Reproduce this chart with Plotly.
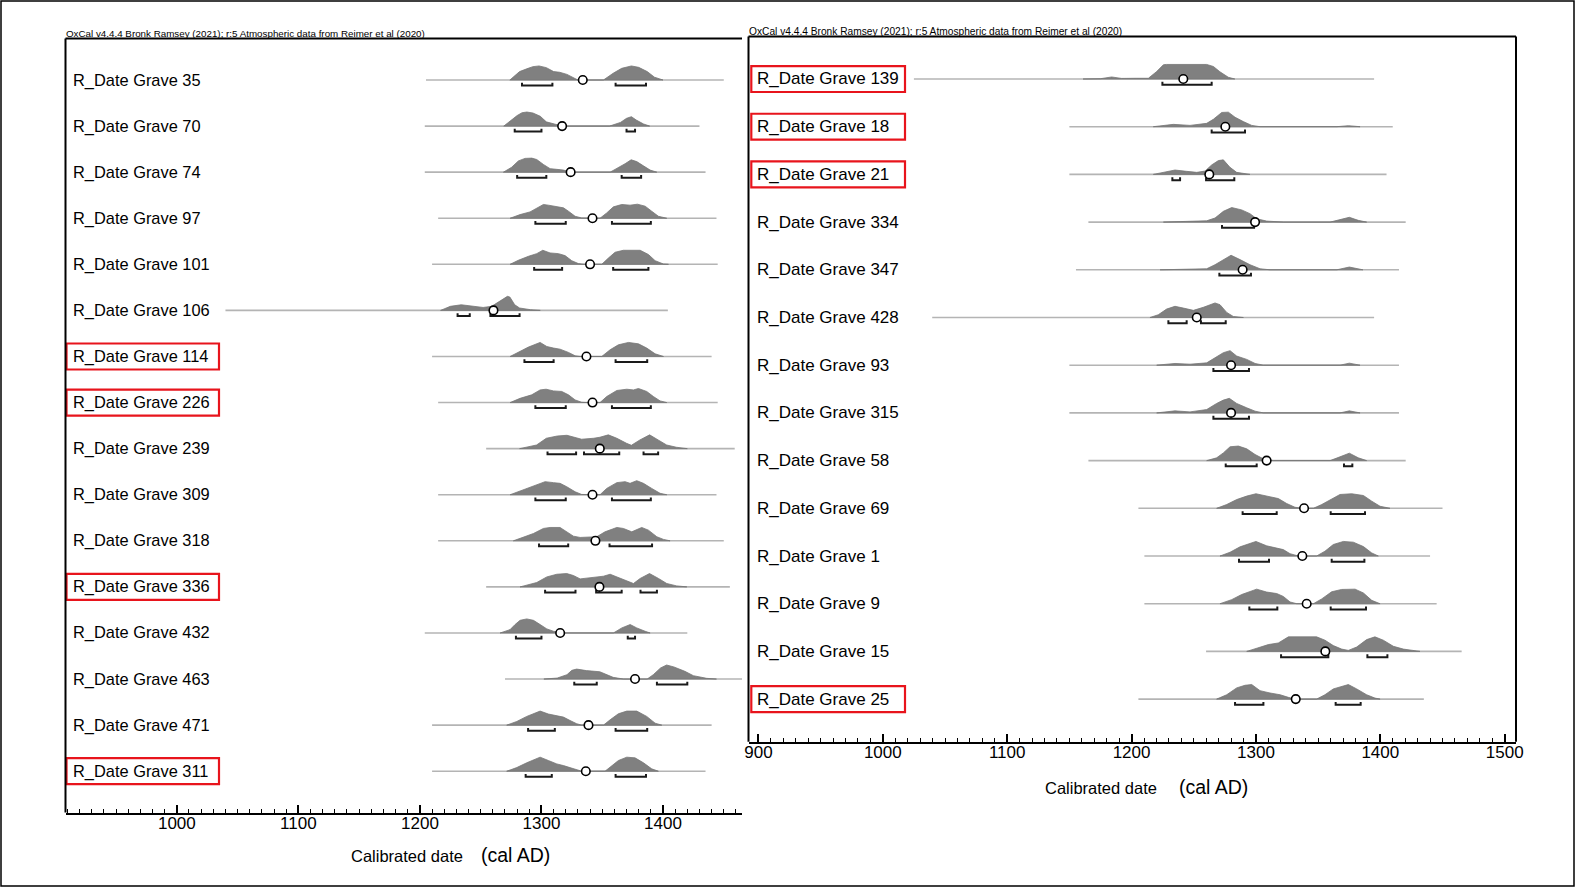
import plotly.graph_objects as go

W, H = 1575, 887
FONT = "Liberation Sans, Arial, Helvetica, sans-serif"
HEADER = "OxCal v4.4.4 Bronk Ramsey (2021); r:5 Atmospheric data from Reimer et al (2020)"

# ---------------- left panel data ----------------
L_LABELS = ["R_Date Grave 35", "R_Date Grave 70", "R_Date Grave 74", "R_Date Grave 97",
            "R_Date Grave 101", "R_Date Grave 106", "R_Date Grave 114", "R_Date Grave 226",
            "R_Date Grave 239", "R_Date Grave 309", "R_Date Grave 318", "R_Date Grave 336",
            "R_Date Grave 432", "R_Date Grave 463", "R_Date Grave 471", "R_Date Grave 311"]
L_BOXED = ["R_Date Grave 114", "R_Date Grave 226", "R_Date Grave 336", "R_Date Grave 311"]
L_SPAN_START = [1205, 1204, 1204, 1215, 1210, 1040, 1210, 1215, 1254.5, 1215, 1215, 1254.5, 1204, 1270, 1210, 1210]
L_SPAN_END = [1450, 1430, 1435, 1444, 1445, 1404, 1440, 1445, 1459, 1444, 1450, 1455, 1420, 1466, 1440, 1435]
L_MEAN = [1334, 1317, 1324, 1342, 1340, 1260.5, 1337, 1342, 1348, 1342, 1344.4, 1347.7, 1315.4, 1377, 1338.7, 1336.5]
L_RANGES = [
    [(1284, 1309), (1361, 1386)],
    [(1278, 1300), (1370, 1377)],
    [(1280, 1304), (1366, 1382)],
    [(1295, 1320), (1358, 1390)],
    [(1294, 1317), (1359, 1388)],
    [(1231, 1241), (1258, 1282)],
    [(1286, 1310), (1361, 1387)],
    [(1295, 1320), (1358, 1390)],
    [(1305, 1328.5), (1335, 1364), (1384, 1396)],
    [(1295, 1320), (1358, 1390)],
    [(1298, 1322), (1356, 1391)],
    [(1303, 1328), (1345, 1366), (1381.5, 1395)],
    [(1279, 1300), (1371, 1377)],
    [(1327, 1345.5), (1395, 1420)],
    [(1289, 1311), (1361, 1387)],
    [(1287, 1308.5), (1361, 1386)],
]
L_DENS_YEARS = [
    [1274, 1282, 1289, 1293, 1298, 1304, 1310, 1315, 1321, 1326, 1330, 1351, 1359, 1366, 1374, 1380, 1387, 1393, 1400],
    [1269, 1274, 1280, 1284, 1288, 1293, 1299, 1304, 1310, 1315, 1321, 1356, 1365, 1370, 1374, 1378, 1384, 1389],
    [1268.7, 1275.5, 1281, 1286.5, 1292, 1296.1, 1301.6, 1307.1, 1312.6, 1318.1, 1322.2, 1324.9, 1356.5, 1363.3, 1368.8, 1373.8, 1378.4, 1383.9, 1389.4, 1394.9],
    [1274.2, 1282.4, 1290.6, 1296.1, 1301.6, 1305.7, 1311.2, 1318.1, 1322.2, 1327.7, 1333.1, 1337.3, 1348.2, 1353.7, 1359.2, 1366.1, 1372.9, 1379, 1385.3, 1390.7, 1396.2, 1403.1],
    [1274.2, 1281, 1289.3, 1296.1, 1301.1, 1307.1, 1314, 1319.4, 1324.9, 1330.4, 1334.5, 1349.6, 1355.1, 1360.6, 1367.4, 1375.7, 1381.2, 1388, 1393.5, 1400.4, 1404.5],
    [1217, 1225, 1234, 1243, 1252, 1259, 1265, 1272, 1274, 1278, 1282, 1291, 1299],
    [1274.2, 1282.4, 1289.3, 1298.9, 1304.4, 1309.9, 1315.3, 1322.2, 1327.7, 1331.8, 1349.6, 1356.5, 1363.3, 1371.6, 1379.8, 1386.6, 1393.5, 1400.4],
    [1274.2, 1282.4, 1292, 1298.9, 1303.8, 1309.9, 1316.7, 1322.2, 1327.7, 1333.1, 1337.3, 1348.2, 1353.7, 1362, 1370.2, 1375.7, 1379.8, 1386.6, 1392.1, 1397.6, 1403.1],
    [1282, 1296, 1304, 1313, 1321, 1326, 1333, 1343, 1348, 1355, 1362, 1370, 1374, 1381, 1389, 1396, 1403, 1411, 1420],
    [1274.2, 1282.4, 1289.3, 1296.1, 1303, 1309.9, 1315.3, 1320.8, 1327.7, 1333.1, 1337.3, 1348.2, 1353.7, 1362, 1368.8, 1372.9, 1378.4, 1383.9, 1390.7, 1397.6, 1403.1],
    [1276.9, 1285.2, 1293.4, 1301.6, 1307.1, 1315.3, 1320.8, 1326.3, 1331.8, 1340, 1345.5, 1352.3, 1362, 1367.4, 1374.3, 1382.5, 1388, 1394.9, 1400.4, 1405.8],
    [1282.4, 1296.1, 1304.4, 1312.6, 1320.8, 1326.3, 1331.8, 1342.8, 1351, 1356.5, 1364.7, 1373, 1375.7, 1381.2, 1388.9, 1396.3, 1403.1, 1411.3, 1419.6],
    [1266, 1274.2, 1278.3, 1282.4, 1287.9, 1293.4, 1298.9, 1304.4, 1309.9, 1318.1, 1359.2, 1366.1, 1373, 1378.4, 1385.3, 1389.4],
    [1302, 1313, 1321, 1325, 1329, 1337, 1348, 1354, 1359, 1367.5, 1387, 1392, 1398, 1403, 1409, 1418, 1425, 1436, 1444],
    [1271.4, 1279.7, 1287.9, 1298.9, 1305.7, 1312.6, 1318.1, 1323.5, 1329, 1333.1, 1351, 1356.5, 1363.3, 1370.2, 1378.4, 1386.6, 1393.5, 1399],
    [1271.4, 1279.7, 1287.9, 1298.9, 1305.7, 1312.6, 1318.1, 1323.5, 1329, 1333.1, 1352.3, 1357.8, 1363.3, 1370.2, 1377, 1383.9, 1390.7, 1396.2],
]
L_DENS_VALS = [
    [0, .6, .83, .95, 1, .88, .6, .55, .4, .17, 0, 0, .48, .83, 1, .9, .6, .2, 0],
    [0, .35, .75, .95, 1, .93, .7, .3, .14, .05, 0, 0, .26, .55, .67, .43, .15, 0],
    [0, .35, .8, .98, 1, .9, .55, .25, .2, .15, .05, 0, 0, .3, .6, .88, .75, .45, .15, 0],
    [0, .26, .45, .74, .98, .93, .86, .74, .5, .14, .02, 0, 0, .38, .81, .98, .93, 1, .86, .5, .14, 0],
    [0, .29, .57, .76, 1, .81, .76, .62, .26, .05, 0, 0, .45, .86, 1, .98, 1, .7, .26, .02, 0],
    [0, .29, .4, .29, .21, .29, .64, 1, .95, .4, .17, .05, 0],
    [0, .36, .67, 1, .71, .6, .52, .29, .05, 0, 0, .48, .83, 1, .9, .6, .19, 0],
    [0, .3, .55, .9, .95, .83, .79, .55, .19, .02, 0, 0, .43, .86, .95, .9, 1, .79, .43, .12, 0],
    [0, .26, .74, .9, .95, .81, .67, .74, .81, .98, .74, .38, .24, .62, .98, .62, .26, .1, 0],
    [0, .26, .45, .69, .93, .86, .81, .57, .21, .02, 0, 0, .45, .86, .93, .81, 1, .81, .45, .1, 0],
    [0, .24, .52, .88, .95, .95, .64, .33, .24, .24, .29, .64, .95, .88, .64, .95, .76, .29, .1, 0],
    [0, .31, .71, .9, .95, .81, .57, .67, .76, .9, .6, .29, .24, .6, .95, .6, .24, .07, 0],
    [0, .24, .6, .9, 1, .9, .6, .29, .12, 0, 0, .36, .6, .36, .12, 0],
    [0, .07, .31, .62, .71, .6, .52, .31, .12, 0, 0, .31, .79, 1, .86, .55, .24, .05, 0],
    [0, .26, .62, 1, .79, .69, .57, .33, .1, 0, 0, .38, .81, 1, 1, .62, .14, 0],
    [0, .26, .6, 1, .76, .52, .4, .24, .07, 0, 0, .36, .76, 1, .95, .6, .17, 0],
]

# ---------------- right panel data ----------------
R_LABELS = ["R_Date Grave 139", "R_Date Grave 18", "R_Date Grave 21", "R_Date Grave 334",
            "R_Date Grave 347", "R_Date Grave 428", "R_Date Grave 93", "R_Date Grave 315",
            "R_Date Grave 58", "R_Date Grave 69", "R_Date Grave 1", "R_Date Grave 9",
            "R_Date Grave 15", "R_Date Grave 25"]
R_BOXED = ["R_Date Grave 139", "R_Date Grave 18", "R_Date Grave 21", "R_Date Grave 25"]
R_SPAN_START = [1025, 1150, 1150, 1165.3, 1155.3, 1039.7, 1150, 1150, 1165.3, 1205.5, 1210.3, 1210.3, 1259.9, 1205.5]
R_SPAN_END = [1395, 1410, 1405, 1420.4, 1415, 1395, 1415, 1415, 1420.4, 1450, 1440, 1445.3, 1465.4, 1435]
R_MEAN = [1241.6, 1275.4, 1262.5, 1299.3, 1289.3, 1252.4, 1280, 1280, 1308.6, 1338.7, 1337.3, 1340.8, 1355.8, 1332]
R_RANGES = [
    [(1224.8, 1264.4)],
    [(1264.4, 1291.2)],
    [(1232.8, 1239), (1259.9, 1282.6)],
    [(1272.7, 1298.5)],
    [(1270.6, 1296)],
    [(1229.6, 1244.3), (1255.8, 1275.7)],
    [(1265.8, 1294.4)],
    [(1265.8, 1294.4)],
    [(1275.7, 1300.6), (1370.8, 1377.5)],
    [(1289.3, 1316.7), (1360.1, 1387.7)],
    [(1286.4, 1310.5), (1360.9, 1387.2)],
    [(1294.7, 1317.2), (1360.1, 1388.5)],
    [(1320.2, 1358.2), (1389.6, 1405.7)],
    [(1283.2, 1306), (1364.1, 1384.2)],
]
R_DENS_YEARS = [
    [1161, 1175, 1184, 1192, 1204, 1213.5, 1220, 1225.6, 1228, 1260.4, 1265.8, 1271, 1277.8, 1283],
    [1217.5, 1233.6, 1247, 1260.4, 1265.8, 1272.5, 1277.8, 1283.2, 1289.9, 1296.6, 1303.3, 1365, 1374.3, 1383.7],
    [1217.5, 1225.6, 1234.9, 1244.3, 1252.4, 1259.1, 1264.4, 1269.8, 1273.8, 1279.1, 1284.5, 1295.2],
    [1225.6, 1260.4, 1267.1, 1273.8, 1280.5, 1288.5, 1295.2, 1300.6, 1308.6, 1322, 1359.6, 1367.6, 1375.1, 1382.3, 1389],
    [1222.9, 1260.4, 1267.1, 1273.8, 1280, 1287.2, 1295.2, 1303.3, 1311.3, 1365, 1375.1, 1386],
    [1214.8, 1221.5, 1228.2, 1234.9, 1241.6, 1249.7, 1257.7, 1267.1, 1271.1, 1276.5, 1281.8, 1289.9],
    [1220.2, 1234.9, 1247, 1260.4, 1267.1, 1273.8, 1279.2, 1284.5, 1292.6, 1299.3, 1306, 1367.6, 1375.1, 1383.7],
    [1220.2, 1234.9, 1247, 1260.4, 1268.4, 1273.8, 1278.6, 1284.5, 1292.6, 1299.3, 1306, 1367.6, 1375.1, 1383.7],
    [1260.4, 1268.4, 1273.8, 1279.2, 1285.9, 1292.6, 1299.3, 1306, 1314, 1359.6, 1367.6, 1375.1, 1382.3, 1389],
    [1268.4, 1276.5, 1284.5, 1292.6, 1300, 1308.6, 1318, 1324.7, 1331.4, 1338.1, 1346.2, 1352.9, 1359.6, 1367.6, 1377, 1386.4, 1393.1, 1399.8, 1407.8],
    [1271.1, 1279.2, 1287.2, 1294.7, 1300, 1308.6, 1316.7, 1322, 1327.4, 1334.1, 1348.8, 1355.5, 1362.2, 1370.3, 1378.3, 1386.4, 1393.1, 1398.4],
    [1271.1, 1280.5, 1288.5, 1295.2, 1300.6, 1308.6, 1316.7, 1322, 1327.4, 1332.8, 1346.2, 1352.9, 1360.9, 1368.9, 1374.3, 1379.7, 1386.4, 1393.1, 1399.8],
    [1292.6, 1302, 1310, 1318, 1326.1, 1348.8, 1355.5, 1362.2, 1368.9, 1374.3, 1381, 1389, 1395.7, 1402.4, 1410.5, 1418.5, 1426.6, 1431.9],
    [1268.4, 1276.5, 1284.5, 1291.2, 1296.6, 1303.3, 1311.3, 1319.4, 1326.1, 1331.4, 1348.8, 1355.5, 1362.2, 1374.3, 1381, 1389, 1395.7, 1399.8],
]
R_DENS_VALS = [
    [0, .02, .14, .04, .05, .05, .5, .98, 1, 1, .86, .5, .12, 0],
    [0, .16, .09, .23, .51, .98, 1, .65, .35, .09, 0, 0, .07, 0],
    [0, .16, .3, .21, .14, .23, .65, .95, 1, .49, .14, 0],
    [0, .09, .28, .74, 1, .84, .58, .23, .07, 0, 0, .16, .33, .12, 0],
    [0, .07, .35, .7, 1, .7, .35, .07, 0, 0, .19, 0],
    [0, .19, .58, .77, .65, .49, .7, 1, .88, .35, .07, 0],
    [0, .12, .07, .16, .51, .86, 1, .63, .4, .12, 0, 0, .14, 0],
    [0, .14, .07, .23, .65, .88, 1, .65, .35, .12, 0, 0, .14, 0],
    [0, .19, .53, .95, 1, .81, .42, .12, 0, 0, .26, .51, .19, 0],
    [0, .26, .6, .84, 1, .84, .67, .33, .07, 0, 0, .26, .6, .95, 1, .88, .49, .14, 0],
    [0, .26, .63, .86, 1, .7, .56, .44, .16, 0, 0, .33, .79, 1, .95, .65, .21, 0],
    [0, .28, .63, .86, 1, .8, .7, .5, .12, 0, 0, .33, .82, .98, .98, 1, .74, .23, 0],
    [0, .23, .47, .58, 1, 1, .77, .4, .16, .07, .3, .81, 1, .77, .35, .16, .05, 0],
    [0, .3, .77, .95, 1, .58, .42, .3, .12, 0, 0, .3, .7, 1, .7, .3, .07, 0],
]

AXIS_TICKS = [900, 1000, 1100, 1200, 1300, 1400, 1500]

# ---------------- geometry (pixels) ----------------
PEAK = 0.305      # peak height in row units
BR_LOW = 0.12     # bracket bar below baseline
BR_HIGH = 0.06    # bracket end ticks


def px(x):
    return x / W


def py(y):
    return 1 - y / H


fig = go.Figure()


def add_panel(xa, ya, labels, boxed, s0, s1, mean, ranges, dy, dv, label_x, box_x0, box_x1, box_half, font_size):
    bx, by = [], []
    for i in range(len(labels)):
        bx += [s0[i], s1[i], None]
        by += [i, i, None]
    fig.add_trace(go.Scatter(x=bx, y=by, mode="lines", xaxis=xa, yaxis=ya,
                             line=dict(color="#b4b4b4", width=1.6), hoverinfo="skip"))
    for i in range(len(labels)):
        yrs, vals = dy[i], dv[i]
        xs = list(yrs) + [yrs[-1], yrs[0]]
        ys = [i - v * PEAK for v in vals] + [i, i]
        fig.add_trace(go.Scatter(x=xs, y=ys, mode="lines", fill="toself", xaxis=xa, yaxis=ya,
                                 fillcolor="#808080", line=dict(color="#767676", width=0.8),
                                 hoverinfo="skip"))
    kx, ky = [], []
    for i in range(len(labels)):
        for a, b in ranges[i]:
            kx += [a, a, b, b, None]
            ky += [i + BR_HIGH, i + BR_LOW, i + BR_LOW, i + BR_HIGH, None]
    fig.add_trace(go.Scatter(x=kx, y=ky, mode="lines", xaxis=xa, yaxis=ya,
                             line=dict(color="#1a1a1a", width=2), hoverinfo="skip"))
    fig.add_trace(go.Scatter(x=mean, y=list(range(len(labels))), mode="markers", xaxis=xa, yaxis=ya,
                             marker=dict(size=8.5, color="white", line=dict(color="black", width=1.6)),
                             hoverinfo="skip"))
    for i, lab in enumerate(labels):
        fig.add_annotation(x=px(label_x), y=i, xref="paper", yref=ya, text=lab, showarrow=False,
                           xanchor="left", yanchor="middle",
                           font=dict(family=FONT, size=font_size, color="black"))
        if lab in boxed:
            fig.add_shape(type="rect", xref="paper", yref=ya, x0=px(box_x0), x1=px(box_x1),
                          y0=i - box_half, y1=i + box_half,
                          line=dict(color="#e8141c", width=2.2), fillcolor="rgba(0,0,0,0)")


add_panel("x", "y", L_LABELS, L_BOXED, L_SPAN_START, L_SPAN_END, L_MEAN, L_RANGES,
          L_DENS_YEARS, L_DENS_VALS, 71.3, 66.5, 219, 0.282, 16.4)
add_panel("x2", "y2", R_LABELS, R_BOXED, R_SPAN_START, R_SPAN_END, R_MEAN, R_RANGES,
          R_DENS_YEARS, R_DENS_VALS, 755.4, 751.3, 905, 0.272, 17)

axis_common = dict(
    showgrid=False, zeroline=False, showline=True, linecolor="black", linewidth=2,
    ticks="inside", ticklen=8, tickwidth=1.5, tickcolor="black",
    tickmode="array", tickvals=AXIS_TICKS, automargin=False, ticklabelstandoff=-6,
    tickfont=dict(family=FONT, size=17, color="black"),
    minor=dict(ticks="inside", ticklen=3.5, tickwidth=1, tickcolor="black", dtick=10, tick0=900, showgrid=False),
    fixedrange=True,
)

fig.update_layout(
    template="none",
    width=W, height=H, autosize=False,
    margin=dict(l=0, r=0, t=0, b=0, pad=0, autoexpand=False),
    paper_bgcolor="white", plot_bgcolor="white",
    showlegend=False, hovermode=False,
    xaxis=dict(domain=[px(65.5), px(742)], range=[908.4, 1465.0], anchor="y", **axis_common),
    yaxis=dict(domain=[py(812.5), py(38.5)], range=[15.896, -0.9006], visible=False, anchor="x", automargin=False),
    xaxis2=dict(domain=[px(748.5), px(1516)], range=[892.0, 1509.1], anchor="y2", **axis_common),
    yaxis2=dict(domain=[py(741.7), py(36.5)], range=[13.893, -0.891], visible=False, anchor="x2", automargin=False),
)

frame = dict(color="black", width=2)
for (x0, y0, x1, y1) in [
    (65.5, 38.5, 742, 38.5), (65.5, 38.5, 65.5, 812.5),
    (748.5, 36.5, 1516, 36.5), (748.5, 36.5, 748.5, 741.7), (1516, 36.5, 1516, 741.7),
]:
    fig.add_shape(type="line", xref="paper", yref="paper", x0=px(x0), y0=py(y0), x1=px(x1), y1=py(y1), line=frame)

fig.add_shape(type="rect", xref="paper", yref="paper", x0=px(1), y0=py(886), x1=px(1574), y1=py(1),
              line=dict(color="black", width=1.5), fillcolor="rgba(0,0,0,0)")

fig.add_annotation(x=px(63.5), y=py(33.5), xref="paper", yref="paper", text=HEADER, showarrow=False,
                   xanchor="left", yanchor="middle", font=dict(family=FONT, size=9.8, color="black"))
fig.add_annotation(x=px(747), y=py(31), xref="paper", yref="paper", text=HEADER, showarrow=False,
                   xanchor="left", yanchor="middle", font=dict(family=FONT, size=10.2, color="black"))

for (xc, xa, yc) in [(348.6, 479, 855.8), (1042.6, 1177.2, 787.5)]:
    fig.add_annotation(x=px(xc), y=py(yc), xref="paper", yref="paper", text="Calibrated date",
                       showarrow=False, xanchor="left", yanchor="middle",
                       font=dict(family=FONT, size=16.5, color="black"))
    fig.add_annotation(x=px(xa), y=py(yc - 1), xref="paper", yref="paper", text="(cal AD)",
                       showarrow=False, xanchor="left", yanchor="middle",
                       font=dict(family=FONT, size=19.5, color="black"))

fig.write_html("out.html", config={"responsive": False})
